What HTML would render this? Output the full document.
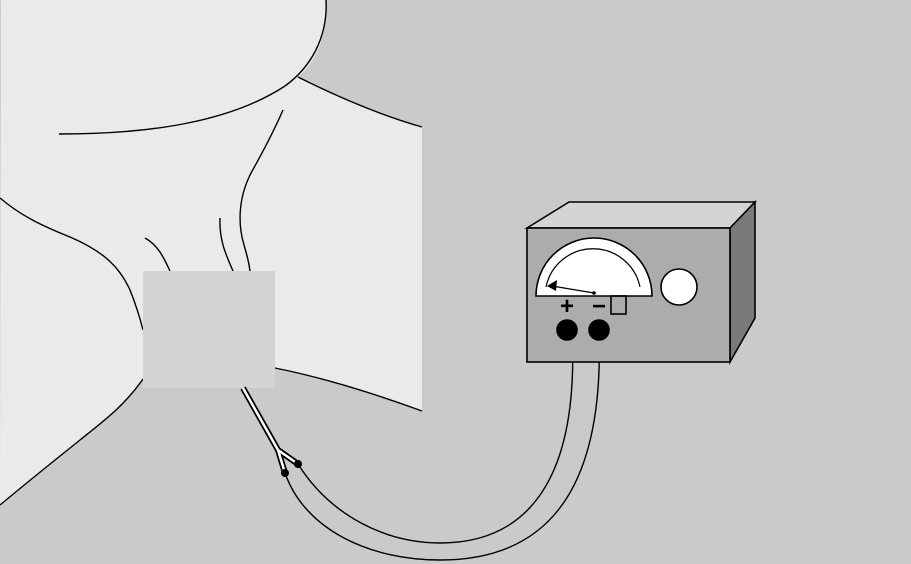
<!DOCTYPE html>
<html><head><meta charset="utf-8"><style>html,body{margin:0;padding:0;background:#cacaca}svg{display:block}</style></head>
<body>
<svg width="911" height="564" viewBox="0 0 911 564" xmlns="http://www.w3.org/2000/svg">
<rect width="911" height="564" fill="#cacaca"/>
<path fill="#eaeaea" d="M1,0 L326,0 C328,32 318,60 298,77 C340,98 380,115 422,127 L422,411 C370,392 320,377 275,368 L275,388 L143,388 L143,379 C125,405 105,420 80,440 C55,460 30,480 0,505 Z"/>
<g fill="none" stroke="#000" stroke-width="1.4">
<path d="M326,0 C328,38 310,68 285,86 C230,122 150,134 59,134"/>
<path d="M298,77 C340,98 380,115 422,127"/>
<path d="M0,198 C20,215 40,225 70,237 C105,252 120,268 130,290 C136,305 140,318 143,330"/>
<path d="M275,368 C320,377 370,392 422,411"/>
<path d="M143,379 C125,405 105,420 80,440 C55,460 30,480 0,505"/>
<path d="M283,110 C270,140 258,160 250,175 C238,200 238,225 244,245 C247,255 249,263 250,271"/>
<path d="M220,218 C219,240 226,255 233,271"/>
<path d="M145,238 C158,245 164,258 170,271"/>
</g>
<rect x="143" y="271" width="132" height="117" fill="#d4d4d4"/>
<g>
<path d="M243,388 L278,450 L285,473 M278,450 L298,464" fill="none" stroke="#000" stroke-width="6"/>
<path d="M243,388 L278,450 L285,473 M278,450 L298,464" fill="none" stroke="#fff" stroke-width="2.5"/>
<circle cx="285" cy="473" r="4" fill="#000"/><circle cx="298" cy="464" r="4" fill="#000"/>
</g>
<g fill="none" stroke="#000" stroke-width="1.4">
<path d="M285,473 C305,530 370,560 440,560 C540,560 605,500 599,330"/>
<path d="M298,464 C330,515 385,543 440,543 C520,543 580,490 572,330"/>
</g>
<g stroke="#000" stroke-width="1.6">
<polygon points="527,228 569,202 755,202 730,228" fill="#d4d4d4"/>
<polygon points="730,228 755,202 755,318 730,362" fill="#7a7a7a"/>
<rect x="527" y="228" width="203" height="134" fill="#acacac"/>
<path d="M536,296 A58,58 0 0 1 652,296 Z" fill="#fff"/>
<path d="M546,287 A48,48 0 0 1 640,287" fill="none" stroke-width="1.2"/>
<line x1="594" y1="293" x2="552" y2="286" stroke-width="1.3"/>
<polygon points="547,286 557,280 556,291" fill="#000" stroke="none"/>
<circle cx="594" cy="293" r="1.8" fill="#000" stroke="none"/>
<circle cx="679" cy="287" r="18" fill="#fff"/>
<rect x="611" y="296" width="15" height="18" fill="none"/>
<circle cx="567" cy="330" r="10" fill="#000"/>
<circle cx="599" cy="330" r="10" fill="#000"/>
</g>
<text x="567" y="314" font-family="Liberation Sans, sans-serif" font-weight="bold" font-size="24" text-anchor="middle">+</text>
<text x="599" y="314" font-family="Liberation Sans, sans-serif" font-weight="bold" font-size="24" text-anchor="middle">−</text>
</svg>
</body></html>
